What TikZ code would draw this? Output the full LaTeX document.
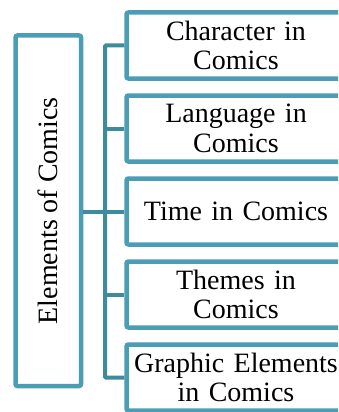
\documentclass[tikz,border=0pt]{standalone}
\usepackage{fontspec}
\setmainfont{Liberation Serif}
\definecolor{boxteal}{RGB}{74,157,180}
\definecolor{linkteal}{RGB}{62,139,158}
\tikzset{
  itembox/.style={draw=boxteal, line width=4.5pt, rounded corners=2pt, fill=white,
    minimum width=219pt, minimum height=66pt, inner sep=0pt,
    text width=214pt, align=center, font=\fontsize{28}{29.5}\selectfont},
  mainbox/.style={draw=boxteal, line width=4.5pt, rounded corners=2pt, fill=white,
    minimum width=65.5pt, minimum height=350.5pt, inner sep=0pt,
    font=\fontsize{28}{29.5}\selectfont},
  link/.style={draw=linkteal, line width=4pt, rounded corners=1pt}
}
\begin{document}
\begin{tikzpicture}[x=1pt,y=-1pt]
\useasboundingbox (0,0) rectangle (338,412);
\clip (0,0) rectangle (338,412);
\fill[white] (0,0) rectangle (338,412);
\coordinate (btop) at (105,45.5);
\coordinate (bbot) at (105,377.5);
\coordinate (bmid) at (105,211.5);
\node[mainbox] (main) at (48.25,210.75) {};
\node[rotate=90, font=\fontsize{28}{29.5}\selectfont, inner sep=0pt, anchor=center] (mainlabel) at (main.center) {Elements of Comics};
\node[itembox] (b1) at (236,45.5) {Character in\\Comics};
\node[itembox] (b2) at (236,128.5) {Language in\\Comics};
\node[itembox] (b3) at (236,211.5) {Time in Comics};
\node[itembox] (b4) at (236,294.5) {Themes in\\Comics};
\node[itembox] (b5) at (236,377.5) {Graphic Elements\\in Comics};
\begin{scope}[on background layer/.style={}]
\draw[link] (b1.west) -- (btop) -- (bbot) -- (b5.west);
\draw[link] (105,128.5) -- (b2.west);
\draw[link] (bmid) -- (b3.west);
\draw[link] (105,294.5) -- (b4.west);
\draw[link] (main.east |- bmid) -- (bmid);
\end{scope}
\end{tikzpicture}
\end{document}
